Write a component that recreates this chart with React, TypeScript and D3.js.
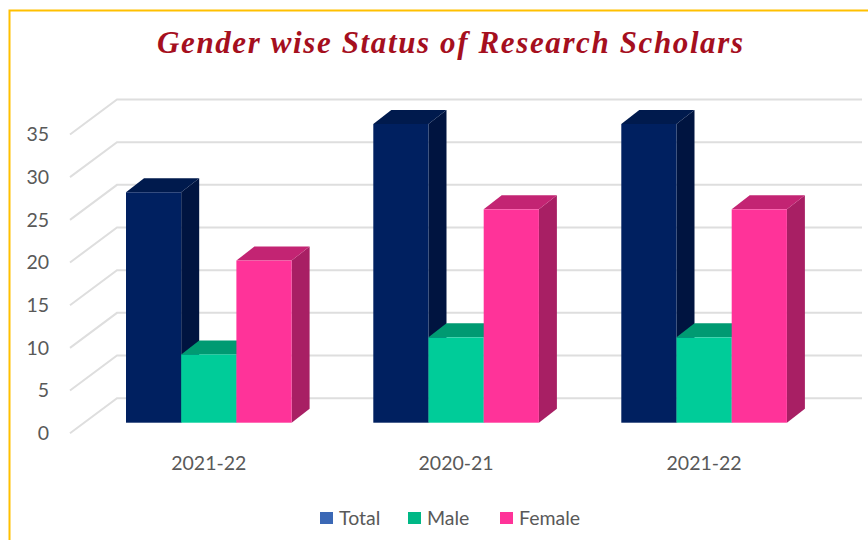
import React from "react";
import * as d3 from "d3";

const categories = ["2021-22", "2020-21", "2021-22"];
const totalValues = [27, 35, 35];
const maleValues = [8, 10, 10];
const femaleValues = [19, 25, 25];
const yTicks = [0, 5, 10, 15, 20, 25, 30, 35];

const seriesNames = ["Total", "Male", "Female"];
const seriesValues = [totalValues, maleValues, femaleValues];
const faceColors = [
  { front: "#002060", top: "#001a4d", side: "#001440" },
  { front: "#00CC99", top: "#009A72", side: "#009A72" },
  { front: "#FF3399", top: "#C32473", side: "#A81F64" },
];
const legendColors = ["#3B68B5", "#00B886", "#FF3399"];
const legendSwatchX = [320, 408, 500];

const GRID = "#DEDEDE";
const TEXT = "#595959";
const FONT = "Lato, 'Open Sans', sans-serif";

// Oblique projection: how far the depth axis shifts things on screen.
const barDepth = { dx: 18, dy: -14 };
const wallDepth = { dx: 47, dy: -35 };

const y = d3.scaleLinear().domain([0, 35]).range([422.7, 124]);
const groupX = d3.scaleBand<number>().domain([0, 1, 2]).range([2, 911]).paddingInner(0.3).paddingOuter(0);
const barWidth = 55.2;
const groupStarts = [126, 373.3, 621.3];

const pts = (p: [number, number][]) => p.map((q) => q.join(",")).join(" ");

function Bar({ x, value, colors }: { x: number; value: number; colors: (typeof faceColors)[number] }) {
  const top = y(value);
  const base = y(0);
  const r = x + barWidth;
  const { dx, dy } = barDepth;
  return (
    <g>
      <polygon fill={colors.side} points={pts([[r, top], [r + dx, top + dy], [r + dx, base + dy], [r, base]])} />
      <polygon fill={colors.top} points={pts([[x, top], [x + dx, top + dy], [r + dx, top + dy], [r, top]])} />
      <rect x={x} y={top} width={barWidth} height={base - top} fill={colors.front} />
    </g>
  );
}

export default function App() {
  // Gridlines sit on the walls, so they start from the front of the value axis.
  const frontY = (v: number) => y(v) + 10.5;
  return (
    <svg width={868} height={540} style={{ position: "absolute", left: 0, top: 0, background: "#fff" }}>
      <path d="M9.5,540 V10.5 H868" fill="none" stroke="#FFC000" strokeWidth={2} />

      <text
        x={450}
        y={53}
        textAnchor="middle"
        fontFamily="'Liberation Serif', serif"
        fontWeight="bold"
        fontStyle="italic"
        fontSize={31}
        textLength={586}
        lengthAdjust="spacing"
        fill="#A50F1E"
      >
        Gender wise Status of Research Scholars
      </text>

      {yTicks.map((t) => {
        const fy = frontY(t);
        return (
          <g key={t}>
            <polyline
              points={pts([[70, fy], [70 + wallDepth.dx, fy + wallDepth.dy], [862, fy + wallDepth.dy]])}
              fill="none"
              stroke={GRID}
              strokeWidth={2}
            />
            <text x={49} y={fy} dy="0.35em" textAnchor="end" fontFamily={FONT} fontSize={19.5} fill={TEXT}>
              {t}
            </text>
          </g>
        );
      })}

      {categories.map((c, i) => (
        <g key={i}>
          {seriesValues.map((vals, s) => (
            <Bar key={s} x={groupStarts[i] + s * barWidth} value={vals[i]} colors={faceColors[s]} />
          ))}
          <text
            x={groupStarts[i] + (3 * barWidth) / 2}
            y={463}
            dy="0.35em"
            textAnchor="middle"
            fontFamily={FONT}
            fontSize={19.5}
            fill={TEXT}
          >
            {c}
          </text>
        </g>
      ))}

      {seriesNames.map((name, s) => (
        <g key={name}>
          <rect x={legendSwatchX[s]} y={512} width={13} height={12} fill={legendColors[s]} />
          <text x={legendSwatchX[s] + 19} y={518} dy="0.35em" fontFamily={FONT} fontSize={19.5} fill={TEXT}>
            {name}
          </text>
        </g>
      ))}
    </svg>
  );
}
